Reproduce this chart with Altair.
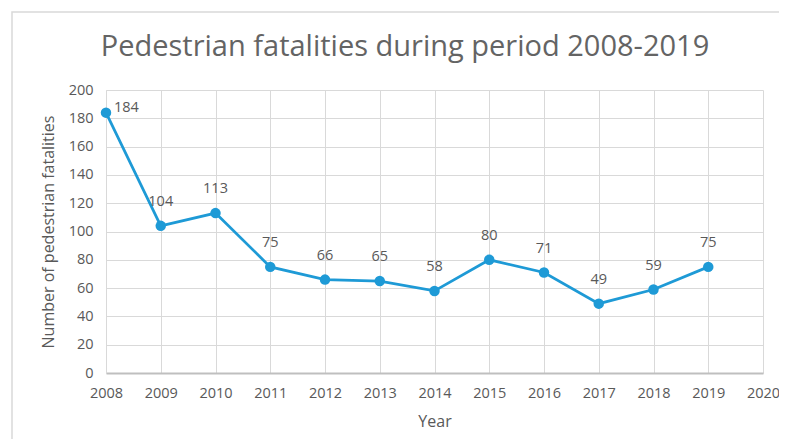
import altair as alt
import pandas as pd

years = [2008, 2009, 2010, 2011, 2012, 2013, 2014, 2015, 2016, 2017, 2018, 2019]
fatalities = [184, 104, 113, 75, 66, 65, 58, 80, 71, 49, 59, 75]
title_text = ["Pedestrian fatalities during period 2008-2019"]

df = pd.DataFrame({"Year": years, "Fatalities": fatalities})

FONT = "Open Sans"
GREY = "#595959"
BLUE = "#1E9AD6"

W, H = 657, 283

x = alt.X("Year:Q", scale=alt.Scale(domain=[2008, 2020], nice=False, zero=False),
          axis=alt.Axis(values=list(range(2008, 2021)), format="d", title="Year",
                        grid=True, gridColor="#d9d9d9", domainColor="#bfbfbf", domainWidth=2,
                        ticks=False, labelPadding=13, labelFontSize=14.5, labelColor=GREY,
                        labelFlush=False,
                        labelFont=FONT, titleFont=FONT, titleFontSize=16, titleColor=GREY,
                        titleFontWeight="normal", titlePadding=14))
y = alt.Y("Fatalities:Q", scale=alt.Scale(domain=[0, 200], nice=False),
          axis=alt.Axis(values=list(range(0, 201, 20)), title="Number of pedestrian fatalities",
                        grid=True, gridColor="#d9d9d9", domainColor="#d9d9d9", domainWidth=1,
                        ticks=False, labelPadding=13, labelFontSize=14.5, labelColor=GREY,
                        labelFont=FONT, titleFont=FONT, titleFontSize=16, titleColor=GREY,
                        titleFontWeight="normal", titlePadding=12))

border = alt.Chart(pd.DataFrame({"a": [0]})).mark_rect(
    fill=None, stroke="#d9d9d9", strokeWidth=1.5
).encode(x=alt.value(-94), x2=alt.value(W + 60), y=alt.value(-78), y2=alt.value(H + 120))

title = alt.Chart(pd.DataFrame({"t": title_text})).mark_text(
    font=FONT, fontSize=29, color="#646464", baseline="middle", align="center"
).encode(x=alt.value(299), y=alt.value(-43), text="t:N")

base = alt.Chart(df)
line = base.mark_line(color=BLUE, strokeWidth=2.75).encode(x=x, y=y)
pts = base.mark_point(color=BLUE, filled=True, opacity=1, size=110).encode(x=x, y=y)
labels = base.transform_filter(alt.datum.Year > 2008).mark_text(
    dy=-24, font=FONT, fontSize=14.5, color=GREY
).encode(x=x, y=y, text="Fatalities:Q")
first = base.transform_filter(alt.datum.Year == 2008).mark_text(
    dx=8, dy=-5, align="left", font=FONT, fontSize=14.5, color=GREY
).encode(x=x, y=y, text="Fatalities:Q")

chart = alt.layer(border, title, line, pts, labels, first).properties(
    width=W, height=H,
    autosize=alt.AutoSizeParams(type="none"),
    padding={"left": 98, "top": 82, "right": 16, "bottom": 66},
).configure_view(stroke=None)

chart.save("out.html", embed_options={"renderer": "svg", "actions": False})
